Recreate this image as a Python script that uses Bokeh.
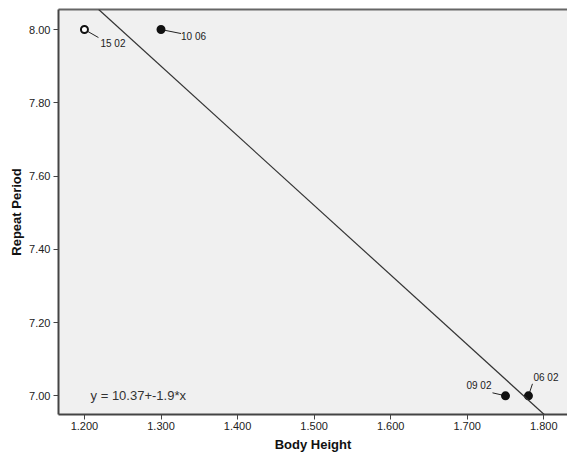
from bokeh.plotting import figure
from bokeh.models import FixedTicker, PrintfTickFormatter, ColumnDataSource, Range1d, Slope, Label, LinearAxis
from bokeh.embed import file_html
from bokeh.resources import INLINE
from bokeh.core.properties import value

# data
body_height = [1.20, 1.30, 1.75, 1.78]
repeat_period = [8.00, 8.00, 7.00, 7.00]
point_labels = ["15 02", "10 06", "09 02", "06 02"]
filled = [False, True, True, True]
intercept = 10.37
slope = -1.9
x_ticks = [1.2, 1.3, 1.4, 1.5, 1.6, 1.7, 1.8]
y_ticks = [7.0, 7.2, 7.4, 7.6, 7.8, 8.0]
fit_label = "y = 10.37+-1.9*x"

# layout styling (pixel offsets of labels / leader ends relative to points)
lab_dx = [16, 20, -14, 5]
lab_dy = [-14, -7, 10, 18]
lead_dx = [14, 20, -13, 4]
lead_dy = [-8, -4, 3, 12]
lab_align = ["left", "left", "right", "left"]

x0, x1 = 1.1661, 1.831
y0, y1 = 6.949, 8.0547
W, H = 567, 456
bl, br, bt, bb = 58, 0, 9, 42
px_x = (W - bl - br) / (x1 - x0)
px_y = (H - bt - bb) / (y1 - y0)

p = figure(width=W, height=H, output_backend="svg", toolbar_location=None,
           x_range=Range1d(x0, x1), y_range=Range1d(y0, y1),
           min_border_left=bl, min_border_right=br, min_border_top=bt, min_border_bottom=bb)
p.background_fill_color = "#f0f0f0"
p.border_fill_color = "white"
p.outline_line_color = None
p.grid.visible = False

xa = p.below[0]
ya = p.left[0]

for ax in (xa, ya):
    ax.axis_line_color = "#444444"
    ax.axis_line_width = 2
    ax.major_tick_line_color = "#444444"
    ax.major_tick_in = 0
    ax.major_tick_out = 5
    ax.minor_tick_line_color = None
    ax.major_label_text_font = "Liberation Sans"
    ax.major_label_text_font_size = "11px"
    ax.major_label_text_color = "#222222"
    ax.axis_label_text_font = "Liberation Sans"
    ax.axis_label_text_font_size = "13px"
    ax.axis_label_text_font_style = "bold"
    ax.axis_label_text_color = "#111111"

xa.ticker = FixedTicker(ticks=x_ticks)
ya.ticker = FixedTicker(ticks=y_ticks)
xa.formatter = PrintfTickFormatter(format="%.3f")
ya.formatter = PrintfTickFormatter(format="%.2f")
xa.axis_label = "Body Height"
ya.axis_label = "Repeat Period"
xa.major_label_standoff = 2
ya.major_label_standoff = 3
xa.axis_label_standoff = 4
ya.axis_label_standoff = 2

top = LinearAxis(ticker=FixedTicker(ticks=[]), major_tick_line_color=None, minor_tick_line_color=None,
                 major_label_text_font_size="0px", axis_line_color="#666666", axis_line_width=2)
p.add_layout(top, "above")

p.add_layout(Slope(gradient=slope, y_intercept=intercept, line_color="#333333", line_width=1.2))

seg = ColumnDataSource(dict(
    x0=body_height, y0=repeat_period,
    x1=[x + dx / px_x for x, dx in zip(body_height, lead_dx)],
    y1=[y + dy / px_y for y, dy in zip(repeat_period, lead_dy)]))
p.segment(x0="x0", y0="y0", x1="x1", y1="y1", source=seg, line_color="#222222", line_width=1)

src = ColumnDataSource(dict(
    x=body_height, y=repeat_period,
    fill=["#111111" if f else "white" for f in filled],
    tx=[x + dx / px_x for x, dx in zip(body_height, lab_dx)],
    ty=[y + dy / px_y for y, dy in zip(repeat_period, lab_dy)],
    lab=point_labels, align=lab_align))
p.scatter(x="x", y="y", source=src, size=7, fill_color="fill", line_color="#111111", line_width=2)
p.text(x="tx", y="ty", text="lab", source=src, text_font=value("Liberation Sans"),
       text_font_size="10px", text_color="#222222", text_baseline="middle", text_align="align")

p.add_layout(Label(x=1.208, y=7.0, text=fit_label, text_font="Liberation Sans",
                   text_font_size="13px", text_color="#333333", text_baseline="middle"))

open("out.html", "w").write(file_html(p, INLINE))
